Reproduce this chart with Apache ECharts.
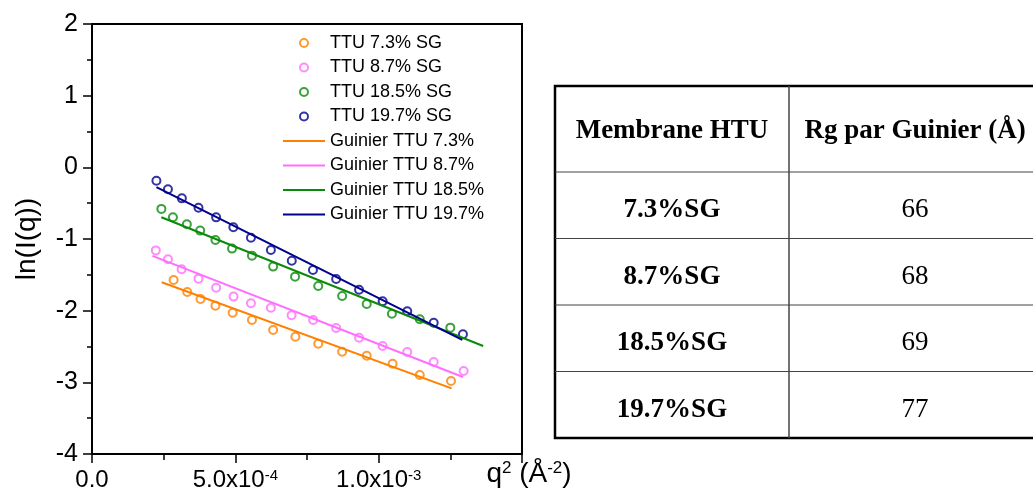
<!DOCTYPE html>
<html>
<head>
<meta charset="utf-8">
<title>Guinier TTU</title>
<script src="https://cdn.jsdelivr.net/npm/echarts@6/dist/echarts.min.js"></script>
<style>
  html, body { margin: 0; padding: 0; background: #fff; }
  #chart { width: 1033px; height: 499px; }
</style>
</head>
<body>
<div id="chart"></div>
<script>
// q² (Å⁻²) et ln(I(q))
const q2_73 = [2.847e-4, 3.323e-4, 3.785e-4, 4.306e-4, 4.906e-4, 5.580e-4, 6.319e-4, 7.094e-4, 7.892e-4, 8.726e-4, 9.583e-4, 1.0486e-3, 1.1434e-3, 1.2524e-3];
const lnI_73 = [-1.571, -1.739, -1.837, -1.930, -2.028, -2.130, -2.270, -2.363, -2.461, -2.573, -2.628, -2.740, -2.898, -2.982];

const q2_87 = [2.226e-4, 2.649e-4, 3.125e-4, 3.715e-4, 4.330e-4, 4.938e-4, 5.545e-4, 6.240e-4, 6.962e-4, 7.715e-4, 8.517e-4, 9.316e-4, 1.0139e-3, 1.0997e-3, 1.192e-3, 1.2965e-3];
const lnI_87 = [-1.159, -1.282, -1.422, -1.553, -1.680, -1.804, -1.897, -1.959, -2.064, -2.130, -2.242, -2.377, -2.493, -2.577, -2.717, -2.842];

const q2_185 = [2.420e-4, 2.823e-4, 3.309e-4, 3.774e-4, 4.306e-4, 4.885e-4, 5.580e-4, 6.319e-4, 7.083e-4, 7.892e-4, 8.726e-4, 9.583e-4, 1.0462e-3, 1.1434e-3, 1.250e-3];
const lnI_185 = [-0.580, -0.696, -0.793, -0.883, -1.013, -1.134, -1.232, -1.385, -1.525, -1.655, -1.795, -1.906, -2.042, -2.120, -2.237];

const q2_197 = [2.247e-4, 2.649e-4, 3.135e-4, 3.715e-4, 4.330e-4, 4.931e-4, 5.545e-4, 6.240e-4, 6.969e-4, 7.708e-4, 8.517e-4, 9.316e-4, 1.0139e-3, 1.0997e-3, 1.192e-3, 1.294e-3];
const lnI_197 = [-0.187, -0.307, -0.433, -0.564, -0.698, -0.837, -0.982, -1.154, -1.303, -1.433, -1.559, -1.708, -1.870, -2.009, -2.168, -2.330];

// droites de Guinier : [q² début, ln début, q² fin, ln fin]
const fit_73 = [2.431e-4, -1.603, 1.2545e-3, -3.084];
const fit_87 = [2.108e-4, -1.236, 1.294e-3, -2.926];
const fit_185 = [2.420e-4, -0.696, 1.3646e-3, -2.493];
const fit_197 = [2.247e-4, -0.277, 1.2917e-3, -2.409];

const xTickLabels = ['0.0', '5.0x10{s|-4}', '1.0x10{s|-3}', ''];

// tableau
const tableHeader = ['Membrane HTU', 'Rg par Guinier (Å)'];
const membranes = ['7.3%SG', '8.7%SG', '18.5%SG', '19.7%SG'];
const rgValues = [66, 68, 69, 77];

const colors = ['#FF8000', '#FF6EFF', '#0A8A0A', '#00008F'];
const font = '"Liberation Sans", Arial, sans-serif';
const serif = '"Liberation Serif", "Times New Roman", serif';

function pairs(xs, ys) {
  return xs.map((x, i) => [x, ys[i]]);
}
function fitLine(f) {
  return [[f[0], f[1]], [f[2], f[3]]];
}

const scatterSets = [
  ['TTU 7.3% SG', q2_73, lnI_73],
  ['TTU 8.7% SG', q2_87, lnI_87],
  ['TTU 18.5% SG', q2_185, lnI_185],
  ['TTU 19.7% SG', q2_197, lnI_197]
];
const fitSets = [
  ['Guinier TTU 7.3%', fit_73],
  ['Guinier TTU 8.7%', fit_87],
  ['Guinier TTU 18.5%', fit_185],
  ['Guinier TTU 19.7%', fit_197]
];

const series = [];
scatterSets.forEach((s, i) => {
  series.push({
    name: s[0],
    type: 'scatter',
    symbol: 'emptyCircle',
    symbolSize: 8,
    itemStyle: { color: colors[i], borderWidth: 2 },
    data: pairs(s[1], s[2])
  });
});
fitSets.forEach((s, i) => {
  series.push({
    name: s[0],
    type: 'line',
    symbol: 'none',
    lineStyle: { color: colors[i], width: 2 },
    itemStyle: { color: colors[i] },
    data: fitLine(s[1])
  });
});

// trait simple pour la légende des droites
const lineIcon = 'path://M0,0 L42,0 L42,2 L0,2 Z';
const legendData = scatterSets.map(s => ({ name: s[0] }))
  .concat(fitSets.map(s => ({ name: s[0], icon: lineIcon })));

// tableau dessiné avec des éléments graphiques
const tb = { left: 555, top: 86, split: 789, right: 1041, headH: 86, rowH: 66.5 };
const graphics = [];
const tbBottom = tb.top + tb.headH + tb.rowH * membranes.length;
graphics.push({
  type: 'rect',
  shape: { x: tb.left, y: tb.top, width: tb.right - tb.left, height: tbBottom - tb.top },
  style: { fill: '#fff', stroke: '#000', lineWidth: 2.5 },
  z: 10
});
graphics.push({
  type: 'line',
  shape: { x1: tb.split, y1: tb.top, x2: tb.split, y2: tbBottom },
  style: { stroke: '#444', lineWidth: 1.5 },
  z: 11
});
for (let r = 0; r < membranes.length; r++) {
  const y = tb.top + tb.headH + tb.rowH * r;
  graphics.push({
    type: 'line',
    shape: { x1: tb.left, y1: y, x2: tb.right, y2: y },
    style: { stroke: '#444', lineWidth: 1.2 },
    z: 11
  });
}
const c1 = (tb.left + tb.split) / 2;
const c2 = (tb.split + tb.right) / 2;
function cellText(text, x, y, bold) {
  return {
    type: 'text',
    z: 12,
    style: {
      text: String(text), x: x, y: y,
      align: 'center', verticalAlign: 'middle',
      fontFamily: serif, fontSize: 27, fontWeight: bold ? 'bold' : 'normal',
      fill: '#000'
    }
  };
}
graphics.push(cellText(tableHeader[0], c1, tb.top + tb.headH / 2 + 2, true));
graphics.push(cellText(tableHeader[1], c2, tb.top + tb.headH / 2 + 2, true));
membranes.forEach((m, r) => {
  const y = tb.top + tb.headH + tb.rowH * r + tb.rowH / 2 + 5;
  graphics.push(cellText(m, c1, y, true));
  graphics.push(cellText(rgValues[r], c2, y, false));
});

const chart = echarts.init(document.getElementById('chart'));
chart.setOption({
  animation: false,
  backgroundColor: '#fff',
  textStyle: { fontFamily: font },
  grid: {
    left: 92, right: 511, top: 24, bottom: 45,
    show: true, borderColor: '#000', borderWidth: 2, backgroundColor: 'transparent'
  },
  legend: {
    orient: 'vertical',
    left: 278, top: 29,
    itemWidth: 42, itemHeight: 8, itemGap: 6.5,
    textStyle: { fontFamily: font, fontSize: 18, color: '#000', lineHeight: 18 },
    data: legendData
  },
  xAxis: {
    type: 'value',
    min: 0, max: 1.5e-3, interval: 5e-4,
    name: 'q{s|2} (Å{s|-2})',
    nameLocation: 'end',
    nameGap: 7,
    nameTextStyle: {
      fontFamily: font, fontSize: 28, color: '#000',
      align: 'center', verticalAlign: 'top', padding: [6, 0, 0, 0],
      rich: { s: { fontFamily: font, fontSize: 17, color: '#000', verticalAlign: 'top', lineHeight: 20 } }
    },
    axisLine: { onZero: false, lineStyle: { color: '#000', width: 2 } },
    axisTick: { inside: false, length: 9, lineStyle: { color: '#000', width: 1.5 } },
    minorTick: { show: true, splitNumber: 2, length: 6, lineStyle: { color: '#000', width: 1.5 } },
    splitLine: { show: false },
    axisLabel: {
      margin: 14,
      fontFamily: font, fontSize: 24, color: '#000',
      formatter: (v, i) => xTickLabels[i] || '',
      rich: { s: { fontFamily: font, fontSize: 15, color: '#000', verticalAlign: 'top', lineHeight: 18 } }
    }
  },
  yAxis: {
    type: 'value',
    min: -4, max: 2, interval: 1,
    name: 'ln(I(q))',
    nameLocation: 'middle',
    nameGap: 51,
    nameTextStyle: { fontFamily: font, fontSize: 28, color: '#000' },
    axisLine: { show: true, onZero: false, lineStyle: { color: '#000', width: 2 } },
    axisTick: { show: true, inside: false, length: 9, lineStyle: { color: '#000', width: 1.5 } },
    minorTick: { show: true, splitNumber: 2, length: 5, lineStyle: { color: '#000', width: 1.5 } },
    splitLine: { show: false },
    axisLabel: { margin: 14, fontFamily: font, fontSize: 25, color: '#000' }
  },
  graphic: graphics,
  series: series
});
</script>
</body>
</html>
